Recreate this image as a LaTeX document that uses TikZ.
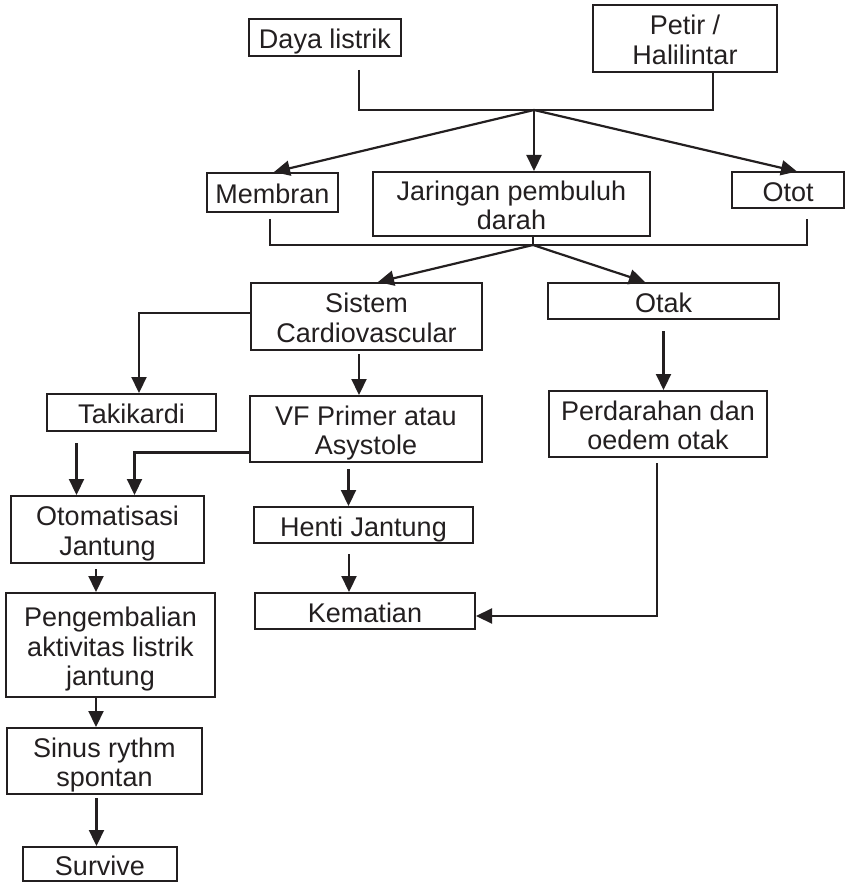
\documentclass[tikz,border=0pt]{standalone}
\usepackage{fontspec}
\setmainfont{Liberation Sans}
\usetikzlibrary{arrows.meta}
\definecolor{ink}{RGB}{35,31,32}
\begin{document}
\begin{tikzpicture}[x=1pt,y=-1pt,
  box/.style={draw=ink,line width=2pt,rectangle,inner sep=0pt,align=center,
    text=ink,font=\fontsize{27}{29.5}\selectfont,text depth=0pt,text height=22.3pt},
  two/.style={text height=51.8pt},
  three/.style={text height=81.3pt},
  link/.style={draw=ink,line width=2.2pt},
  arr/.style={link,-{Triangle[length=16pt,width=15pt]}}]
\useasboundingbox (0,0) rectangle (846,882);

% sources
\node[box,minimum width=152pt,minimum height=37pt] (daya) at (325,37.5) {Daya listrik};
\node[box,two,minimum width=184pt,minimum height=67pt] (petir) at (685,38.5) {Petir /\\Halilintar};

% tissues
\node[box,minimum width=131pt,minimum height=39pt] (membran) at (272.5,192.5) {Membran};
\node[box,two,minimum width=277pt,minimum height=64pt] (jaringan) at (511.5,204) {Jaringan pembuluh\\darah};
\node[box,minimum width=112pt,minimum height=36pt] (otot) at (788,190.5) {Otot};

% organ systems
\node[box,two,minimum width=231pt,minimum height=67pt] (sistem) at (366.5,316.5) {Sistem\\Cardiovascular};
\node[box,minimum width=231pt,minimum height=36pt] (otak) at (663.5,301) {Otak};

% effects
\node[box,minimum width=169pt,minimum height=37pt] (taki) at (131.5,412.5) {Takikardi};
\node[box,two,minimum width=232pt,minimum height=66pt] (vf) at (366,429) {VF Primer atau\\Asystole};
\node[box,two,minimum width=218pt,minimum height=66pt] (perd) at (658,424) {Perdarahan dan\\oedem otak};
\node[box,two,minimum width=193pt,minimum height=67pt] (otom) at (107.5,529.5) {Otomatisasi\\Jantung};
\node[box,minimum width=219pt,minimum height=36pt] (henti) at (363.5,525) {Henti Jantung};
\node[box,minimum width=220pt,minimum height=36pt] (kem) at (365,611) {Kematian};
\node[box,three,minimum width=209pt,minimum height=104pt] (peng) at (110.5,645) {Pengembalian\\aktivitas listrik\\jantung};
\node[box,two,minimum width=195pt,minimum height=66pt] (sinus) at (104.5,761) {Sinus rythm\\spontan};
\node[box,minimum width=154pt,minimum height=34pt] (survive) at (100,864) {Survive};

% upper bus
\coordinate (j1) at (534,110);
\draw[link] ([xshift=34pt,yshift=-13pt]daya.south) |- (j1)
  -- ([xshift=28pt]petir.south |- j1) -- ([xshift=28pt]petir.south);
\draw[arr] (j1) -- ([xshift=1.5pt]membran.north);
\draw[arr] (j1) -- (j1 |- jaringan.north);
\draw[arr] (j1) -- ([xshift=9pt]otot.north);

% lower bus
\coordinate (j2) at (533,245);
\draw[link] ([xshift=-2.5pt,yshift=-6pt]membran.south) |- (j2)
  -| ([xshift=19pt,yshift=-10pt]otot.south);
\draw[link] (jaringan.south -| j2) -- (j2);
\draw[arr] (j2) -- ([xshift=11.5pt]sistem.north);
\draw[arr] (j2) -- ([xshift=-18.5pt]otak.north);

% cardiovascular branch
\draw[arr] ([yshift=3.5pt]sistem.west) -| ([xshift=7.5pt]taki.north);
\draw[arr] ([xshift=-7.5pt,yshift=-3pt]sistem.south) coordinate (s1) -- (s1 |- vf.north);
\draw[arr] ([xshift=-55pt,yshift=-11pt]taki.south) coordinate (t1) -- (t1 |- otom.north);
\draw[arr] ([yshift=-23.5pt]vf.west) -| ([xshift=27pt]otom.north);
\draw[arr] ([xshift=-17.5pt,yshift=-6pt]vf.south) coordinate (v1) -- (v1 |- henti.north);
\draw[arr] ([xshift=-14.5pt,yshift=-10pt]henti.south) coordinate (h1) -- (h1 |- kem.north);

% brain branch
\draw[arr] ([yshift=-11pt]otak.south) coordinate (o1) -- (o1 |- perd.north);
\draw[arr] ([xshift=-1pt,yshift=-5pt]perd.south) |- ([yshift=-5pt]kem.east);

% recovery chain
\draw[arr] ([xshift=-11.5pt,yshift=-5pt]otom.south) coordinate (a1) -- (a1 |- peng.north);
\draw[arr] ([xshift=-14.5pt]peng.south) coordinate (a2) -- (a2 |- sinus.north);
\draw[arr] ([xshift=-8pt,yshift=-3pt]sinus.south) coordinate (a3) -- (a3 |- survive.north);
\end{tikzpicture}
\end{document}
